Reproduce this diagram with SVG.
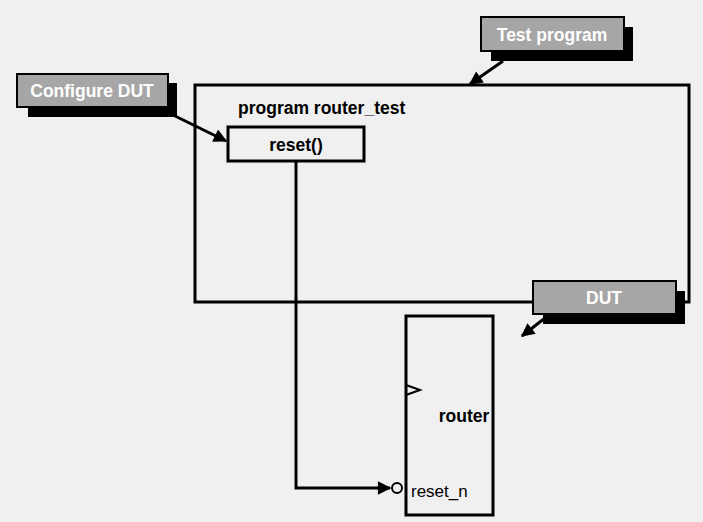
<svg xmlns="http://www.w3.org/2000/svg" width="703" height="522" viewBox="0 0 703 522">
<style>
.bg{fill:#f0f0f0}
.frame{fill:none;stroke:#000;stroke-width:3}
.wbox{fill:#f0f0f0;stroke:#000;stroke-width:3}
.shadow{fill:#000}
.tag{fill:#a6a6a6;stroke:#000;stroke-width:2}
.tagtxt{font-family:"Liberation Sans",Arial,sans-serif;font-weight:bold;font-size:17.5px;fill:#fff;text-anchor:middle}
.lbl{font-family:"Liberation Sans",Arial,sans-serif;font-weight:bold;font-size:17.5px;fill:#000}
.reg{font-family:"Liberation Sans",Arial,sans-serif;font-size:17px;fill:#000}
.conn{fill:none;stroke:#000;stroke-width:3}
</style>
<defs>
<marker id="ah" viewBox="0 0 10 10" refX="9" refY="5" markerWidth="5" markerHeight="4.5" orient="auto" markerUnits="strokeWidth">
<path d="M0,0 L10,5 L0,10 z" fill="#000"/>
</marker>
</defs>
<rect class="bg" x="0" y="0" width="703" height="522"/>
<g id="program-router-test">
<rect class="frame" x="195" y="85" width="494" height="217"/>
<text class="lbl" x="238" y="114">program router_test</text>
</g>
<g id="reset-task">
<rect class="wbox" x="228" y="127" width="136" height="34"/>
<text class="lbl" x="296" y="151" text-anchor="middle">reset()</text>
</g>
<g id="router">
<rect class="frame" x="406" y="316" width="87" height="199"/>
<path d="M406,385 L420,390 L406,395" fill="none" stroke="#000" stroke-width="2"/>
<text class="lbl" x="464" y="422" text-anchor="middle">router</text>
<circle cx="397" cy="488" r="5" fill="#f0f0f0" stroke="#000" stroke-width="2"/>
<text class="reg" x="411" y="497">reset_n</text>
</g>
<g id="connectors">
<path class="conn" d="M296,161 L296,488 L390,488" marker-end="url(#ah)"/>
<path class="conn" d="M173,115 L226,141" marker-end="url(#ah)"/>
<path class="conn" d="M503,61 L470,84" marker-end="url(#ah)"/>
<path class="conn" d="M545,318 L522,336" marker-end="url(#ah)"/>
</g>
<g id="configure-dut">
<rect class="shadow" x="28" y="83" width="149" height="34"/>
<rect class="tag" x="17" y="74" width="151" height="33"/>
<text class="tagtxt" x="92" y="97">Configure DUT</text>
</g>
<g id="test-program">
<rect class="shadow" x="491" y="27" width="142" height="34"/>
<rect class="tag" x="481" y="17" width="143" height="34"/>
<text class="tagtxt" x="552" y="41">Test program</text>
</g>
<g id="dut">
<rect class="shadow" x="543" y="291" width="142" height="33"/>
<rect class="tag" x="533" y="281" width="143" height="33"/>
<text class="tagtxt" x="604" y="304">DUT</text>
</g>
</svg>
